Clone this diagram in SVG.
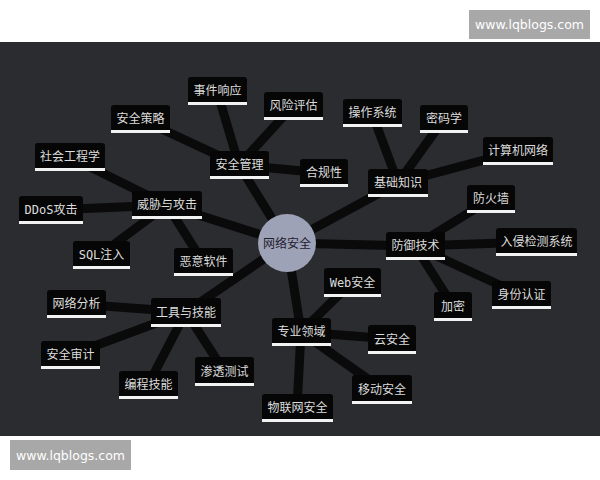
<svg xmlns="http://www.w3.org/2000/svg" width="600" height="480" viewBox="0 0 600 480">
<style>
.bx{fill:#060606}
.ul{fill:#f2f2f2}
.lb{font-family:"DejaVu Sans Mono","Noto Sans CJK SC",monospace;font-size:12px;fill:#dcdcdc;text-anchor:middle}
.cn{stroke:#0a0a0b;stroke-width:9;fill:none;stroke-linecap:butt}
.wm{fill:#a8a8a8}
.wt{font-family:"DejaVu Sans",sans-serif;font-size:12.5px;fill:#ffffff;text-anchor:middle}
</style>
<rect x="0" y="0" width="600" height="480" fill="#ffffff"/>
<rect x="0" y="42" width="600" height="394" fill="#2a2c30"/>
<g id="watermark-top"><rect class="wm" x="469" y="10" width="121" height="29"/><text class="wt" x="529.5" y="29">www.lqblogs.com</text></g>
<g id="watermark-bottom"><rect class="wm" x="10" y="440" width="121" height="30"/><text class="wt" x="70.5" y="460">www.lqblogs.com</text></g>
<g id="connectors">
<line class="cn" x1="287" y1="243" x2="239" y2="165"/>
<line class="cn" x1="287" y1="243" x2="398" y2="183"/>
<line class="cn" x1="287" y1="243" x2="415" y2="246"/>
<line class="cn" x1="287" y1="243" x2="301" y2="332"/>
<line class="cn" x1="287" y1="243" x2="186" y2="312"/>
<line class="cn" x1="287" y1="243" x2="167" y2="205"/>
<line class="cn" x1="239" y1="165" x2="217" y2="91"/>
<line class="cn" x1="239" y1="165" x2="140" y2="119"/>
<line class="cn" x1="239" y1="165" x2="293" y2="106"/>
<line class="cn" x1="239" y1="165" x2="324" y2="173"/>
<line class="cn" x1="167" y1="205" x2="70" y2="157"/>
<line class="cn" x1="167" y1="205" x2="51" y2="210"/>
<line class="cn" x1="167" y1="205" x2="101" y2="254"/>
<line class="cn" x1="167" y1="205" x2="203" y2="262"/>
<line class="cn" x1="398" y1="183" x2="372" y2="113"/>
<line class="cn" x1="398" y1="183" x2="444" y2="119"/>
<line class="cn" x1="398" y1="183" x2="518" y2="151"/>
<line class="cn" x1="415" y1="246" x2="491" y2="199"/>
<line class="cn" x1="415" y1="246" x2="536" y2="242"/>
<line class="cn" x1="415" y1="246" x2="521" y2="295"/>
<line class="cn" x1="415" y1="246" x2="453" y2="306"/>
<line class="cn" x1="301" y1="332" x2="352" y2="282"/>
<line class="cn" x1="301" y1="332" x2="392" y2="339"/>
<line class="cn" x1="301" y1="332" x2="382" y2="389"/>
<line class="cn" x1="301" y1="332" x2="297" y2="408"/>
<line class="cn" x1="186" y1="312" x2="76" y2="304"/>
<line class="cn" x1="186" y1="312" x2="70" y2="355"/>
<line class="cn" x1="186" y1="312" x2="148" y2="385"/>
<line class="cn" x1="186" y1="312" x2="224" y2="371"/>
</g>
<g id="center"><circle cx="287" cy="243" r="29" fill="#9ea2b6"/><text x="287" y="247.5" style="font-family:'Noto Sans CJK SC',sans-serif;font-size:12px;fill:#1e2030;text-anchor:middle">网络安全</text></g>
<g id="n-aqgl" transform="translate(210,151)"><rect class="bx" width="59" height="28" rx="3"/><rect class="ul" y="25" width="59" height="3"/><text class="lb" x="29.5" y="18">安全管理</text></g>
<g id="n-sjxy" transform="translate(188,77)"><rect class="bx" width="59" height="28" rx="3"/><rect class="ul" y="25" width="59" height="3"/><text class="lb" x="29.5" y="18">事件响应</text></g>
<g id="n-aqcl" transform="translate(111,105)"><rect class="bx" width="59" height="28" rx="3"/><rect class="ul" y="25" width="59" height="3"/><text class="lb" x="29.5" y="18">安全策略</text></g>
<g id="n-fxpg" transform="translate(264,92)"><rect class="bx" width="59" height="28" rx="3"/><rect class="ul" y="25" width="59" height="3"/><text class="lb" x="29.5" y="18">风险评估</text></g>
<g id="n-hgx" transform="translate(300,159)"><rect class="bx" width="48" height="28" rx="3"/><rect class="ul" y="25" width="48" height="3"/><text class="lb" x="24" y="18">合规性</text></g>
<g id="n-wxygj" transform="translate(132,191)"><rect class="bx" width="70" height="28" rx="3"/><rect class="ul" y="25" width="70" height="3"/><text class="lb" x="35" y="18">威胁与攻击</text></g>
<g id="n-shgcx" transform="translate(35,143)"><rect class="bx" width="70" height="28" rx="3"/><rect class="ul" y="25" width="70" height="3"/><text class="lb" x="35" y="18">社会工程学</text></g>
<g id="n-ddos" transform="translate(19,196)"><rect class="bx" width="64" height="28" rx="3"/><rect class="ul" y="25" width="64" height="3"/><text class="lb" x="32" y="18">DDoS攻击</text></g>
<g id="n-sql" transform="translate(73,241)"><rect class="bx" width="57" height="28" rx="3"/><rect class="ul" y="25" width="57" height="3"/><text class="lb" x="28.5" y="18">SQL注入</text></g>
<g id="n-eyrj" transform="translate(174,248)"><rect class="bx" width="59" height="28" rx="3"/><rect class="ul" y="25" width="59" height="3"/><text class="lb" x="29.5" y="18">恶意软件</text></g>
<g id="n-jczs" transform="translate(368,169)"><rect class="bx" width="60" height="28" rx="3"/><rect class="ul" y="25" width="60" height="3"/><text class="lb" x="30" y="18">基础知识</text></g>
<g id="n-czxt" transform="translate(343,99)"><rect class="bx" width="59" height="28" rx="3"/><rect class="ul" y="25" width="59" height="3"/><text class="lb" x="29.5" y="18">操作系统</text></g>
<g id="n-mmx" transform="translate(420,105)"><rect class="bx" width="48" height="28" rx="3"/><rect class="ul" y="25" width="48" height="3"/><text class="lb" x="24" y="18">密码学</text></g>
<g id="n-jsjwl" transform="translate(483,137)"><rect class="bx" width="70" height="28" rx="3"/><rect class="ul" y="25" width="70" height="3"/><text class="lb" x="35" y="18">计算机网络</text></g>
<g id="n-fyjs" transform="translate(386,232)"><rect class="bx" width="59" height="28" rx="3"/><rect class="ul" y="25" width="59" height="3"/><text class="lb" x="29.5" y="18">防御技术</text></g>
<g id="n-fhq" transform="translate(467,185)"><rect class="bx" width="48" height="28" rx="3"/><rect class="ul" y="25" width="48" height="3"/><text class="lb" x="24" y="18">防火墙</text></g>
<g id="n-rqjc" transform="translate(496,228)"><rect class="bx" width="81" height="28" rx="3"/><rect class="ul" y="25" width="81" height="3"/><text class="lb" x="40.5" y="18">入侵检测系统</text></g>
<g id="n-sfrz" transform="translate(492,281)"><rect class="bx" width="59" height="28" rx="3"/><rect class="ul" y="25" width="59" height="3"/><text class="lb" x="29.5" y="18">身份认证</text></g>
<g id="n-jm" transform="translate(434,292)"><rect class="bx" width="38" height="29" rx="3"/><rect class="ul" y="26" width="38" height="3"/><text class="lb" x="19" y="18.5">加密</text></g>
<g id="n-zyly" transform="translate(272,318)"><rect class="bx" width="59" height="28" rx="3"/><rect class="ul" y="25" width="59" height="3"/><text class="lb" x="29.5" y="18">专业领域</text></g>
<g id="n-web" transform="translate(324,268)"><rect class="bx" width="57" height="29" rx="3"/><rect class="ul" y="26" width="57" height="3"/><text class="lb" x="28.5" y="18.5">Web安全</text></g>
<g id="n-yaq" transform="translate(368,325)"><rect class="bx" width="48" height="29" rx="3"/><rect class="ul" y="26" width="48" height="3"/><text class="lb" x="24" y="18.5">云安全</text></g>
<g id="n-ydaq" transform="translate(352,375)"><rect class="bx" width="60" height="29" rx="3"/><rect class="ul" y="26" width="60" height="3"/><text class="lb" x="30" y="18.5">移动安全</text></g>
<g id="n-wlwaq" transform="translate(262,394)"><rect class="bx" width="71" height="28" rx="3"/><rect class="ul" y="25" width="71" height="3"/><text class="lb" x="35.5" y="18">物联网安全</text></g>
<g id="n-gjyjn" transform="translate(151,298)"><rect class="bx" width="70" height="29" rx="3"/><rect class="ul" y="26" width="70" height="3"/><text class="lb" x="35" y="18.5">工具与技能</text></g>
<g id="n-wlfx" transform="translate(47,290)"><rect class="bx" width="59" height="28" rx="3"/><rect class="ul" y="25" width="59" height="3"/><text class="lb" x="29.5" y="18">网络分析</text></g>
<g id="n-aqsj" transform="translate(41,341)"><rect class="bx" width="59" height="28" rx="3"/><rect class="ul" y="25" width="59" height="3"/><text class="lb" x="29.5" y="18">安全审计</text></g>
<g id="n-bcjn" transform="translate(119,371)"><rect class="bx" width="59" height="28" rx="3"/><rect class="ul" y="25" width="59" height="3"/><text class="lb" x="29.5" y="18">编程技能</text></g>
<g id="n-stcs" transform="translate(195,357)"><rect class="bx" width="59" height="29" rx="3"/><rect class="ul" y="26" width="59" height="3"/><text class="lb" x="29.5" y="18.5">渗透测试</text></g>
</svg>
